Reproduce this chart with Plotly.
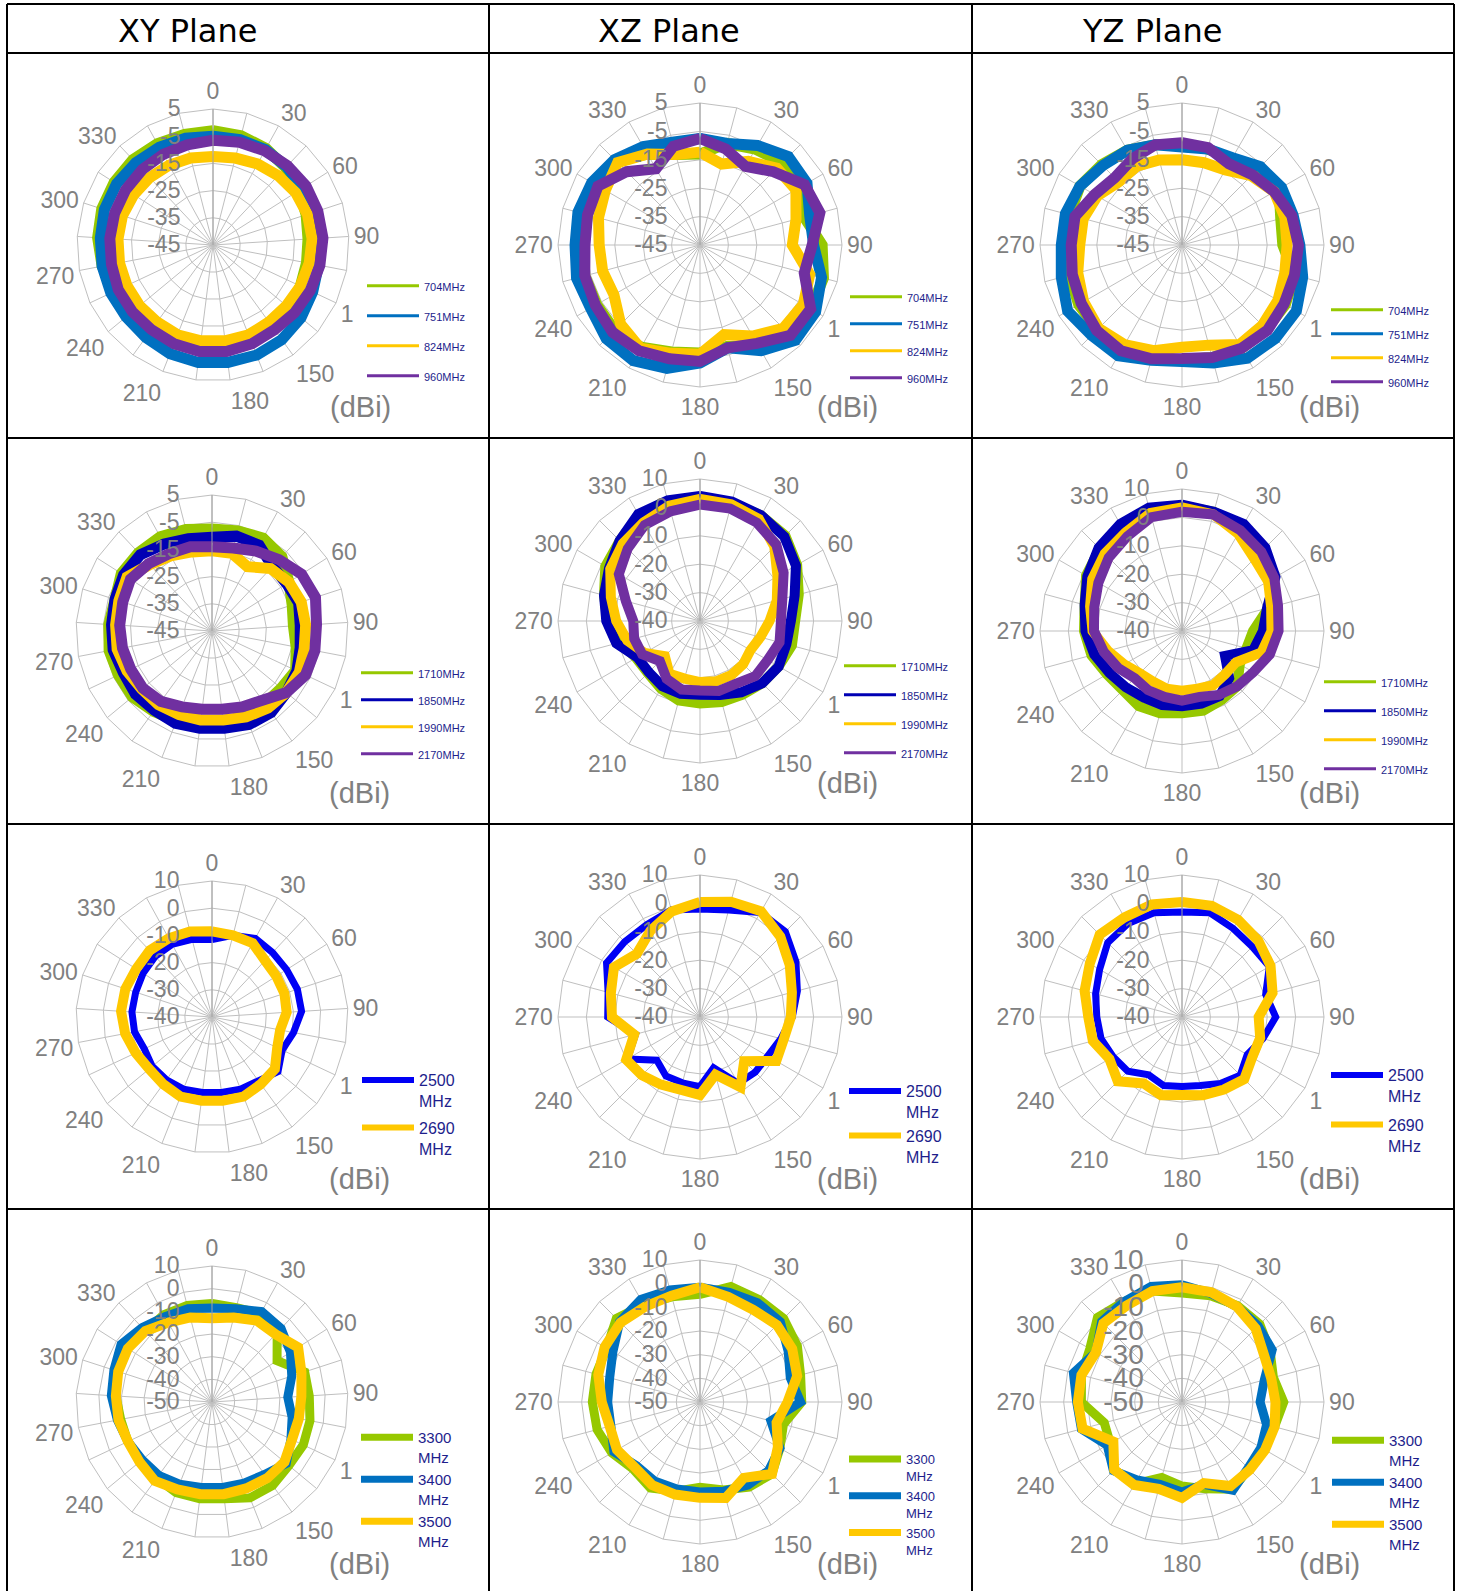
import plotly.graph_objects as go

W, H = 1461, 1591

# XZ / YZ charts: 24 categories (0..345); XY charts: 25 categories (0..360)
ANGLES = [str(a) for a in range(0, 360, 15)]
ANGLES_XY = [str(a) for a in range(0, 361, 15)]

GREEN = "#96C800"
BLUE = "#0070C0"
NAVY = "#0000B4"
BRIGHT_BLUE = "#0000F5"
YELLOW = "#FFC800"
PURPLE = "#7030A0"
GREY = "#808080"
LEGEND_TEXT = "#1E1E8C"

# ---- 700-960 MHz ----
xy1_704 = [-3, -3.5, -4.5, -6, -7.5, -9, -10, -10, -9.5, -8.5, -7.5, -6.5, -6, -6, -6, -6.5, -6, -5, -3.5, -2.5, -2, -2, -2, -2.5, -3]
xy1_751 = [-5, -5, -5, -5.5, -6, -6, -6, -5.5, -4.5, -3, -2, -1.5, -1.5, -1.5, -2, -3, -3.5, -3.5, -3.5, -3.5, -3, -3, -3.5, -4, -4.5]
xy1_824 = [-12.5, -12, -11, -10, -9, -8.5, -8.5, -9, -9.5, -10, -10, -9.5, -9.5, -9.5, -9.5, -10, -10, -10, -10, -10, -10, -10.5, -11, -11.5, -12]
xy1_960 = [-6.5, -6, -5.5, -5, -4.5, -4.5, -4.5, -5, -5.5, -6, -6.5, -6, -5.5, -5.5, -6, -6.5, -6.5, -6.5, -7, -7, -7, -7, -7, -7, -7]

xz1_704 = [-13, -8, -6, -4, -6, -7, -2, 0, 0, -1.5, -4, -8, -7, -6, -3.5, -2.5, -3, -3, -4, -4, -3, -3, -8, -12]
xz1_751 = [-7.5, -8, -4.5, -1, -1.5, -5, -5, -0.7, 2, 2.5, -2, -7.5, -3.5, 0, 2, 1.7, -0.5, 0, -1, -0.5, -1, -2.5, -5, -7.5]
xz1_824 = [-12.3, -15.5, -11, -6.7, -6, -10, -12.5, -5, -3, -3.5, -8, -12.3, -6.5, -5.5, -3, -5.5, -10, -9.5, -9.5, -8, -6.5, -4, -8, -12]
xz1_960 = [-7.5, -10, -13, -8.5, -2.5, -1.3, -5.5, -7, 0, 0, -5, -7.5, -4, -3.5, -2, -1.5, -2.5, -3, -4.5, -4, -3.5, -8.5, -14, -9]

yz1_704 = [-9.5, -10, -10, -7, -5.5, -9, -9.5, -4, -3, -3, -3, -4, -4.5, -4, -3, -3, -3, -4, -5, -4, -3.5, -5, -6.5, -8.5]
yz1_751 = [-10.5, -10, -9.5, -6, -4.5, -4.5, -3.5, -1, 1.5, 1.5, 1, -2, -4, -3, 0, 0, 1.5, -1, -2.5, -2.5, -3.5, -5.5, -6.5, -8.5]
yz1_824 = [-15, -15, -14.5, -10.5, -7.5, -7.5, -8, -7.5, -6, -5, -4.5, -8.5, -9, -6.5, -4.5, -3.5, -5, -7, -9, -9, -10.5, -13.5, -13, -14]
yz1_960 = [-9, -9.5, -12, -10, -7.5, -5, -4, -4, -3.5, -2.5, -3, -4, -5, -3.5, -2, -2.5, -4, -5, -6, -6, -9.5, -11.5, -10, -8.5]

# ---- 1710-2170 MHz ----
xy2_1710 = [-7.5, -7, -6, -7.5, -11.5, -14, -15, -13.5, -11, -12, -12, -12.5, -10, -10, -9.5, -8.5, -7, -7, -6.5, -7, -7.5, -5.5, -5.5, -5.5, -6.5]
xy2_1850 = [-10.5, -9, -9, -12.5, -12.5, -11.5, -12.5, -12, -10.5, -9.5, -8, -8, -9, -9, -8.5, -9, -8.5, -9, -8, -8, -7.5, -6.5, -6.5, -8.5, -10]
xy2_1990 = [-15.5, -15.5, -18, -13.5, -11.5, -10.5, -10.5, -10.5, -9.5, -9.5, -10, -11, -12, -12, -12, -11.5, -11.5, -10.5, -9.5, -9.5, -9, -8, -11.5, -13.5, -15]
xy2_2170 = [-14, -13.5, -11.5, -9, -6, -5, -6.5, -6.5, -7, -9.5, -13.5, -15, -16, -16, -15, -13, -12, -12, -11.5, -11, -10.5, -9.5, -11, -12.5, -13]

xz2_1710 = [3.5, 3, 3, 2.5, -0.5, -4, -6.5, -6.5, -8, -9, -10, -10.5, -11, -11, -12.5, -14, -14, -11, -7.5, -5, -1.5, 0, 3, 3.5]
xz2_1850 = [4, 3.5, 3, 2, -1, -5.5, -8, -8.5, -8, -9, -11, -13, -14, -13.5, -13.5, -14.5, -14.5, -9.5, -7, -5, -3, 0, 3.5, 4]
xz2_1990 = [3, 2.5, 1.5, -3, -8.5, -12, -15.5, -18, -19.5, -18.5, -18, -18, -18.5, -19, -18.5, -22.5, -17.5, -13.5, -10.5, -7.5, -3.5, -1.5, 0, 2]
xz2_2170 = [1, 1, 0, -2, -6, -10, -11.5, -11, -12.5, -12.5, -14.5, -14.5, -15.5, -15, -16.5, -20, -16.5, -16, -16.5, -13, -7, -4, -1, 0]

yz2_1710 = [4, 3.5, 2.5, 0.5, -3, -8.5, -15, -16.5, -16.5, -12.5, -12, -11, -11, -10, -9.5, -10.5, -9.5, -7, -5.5, -4.5, -1, 1, 3, 4]
yz2_1850 = [4.5, 3.5, 3.5, 1.5, -2, -9, -11.5, -14, -22.5, -16.5, -13.5, -13.5, -13.5, -13, -13, -12, -10.5, -8, -6, -4.5, -1.5, 1.5, 3.5, 5]
yz2_1990 = [3.5, 2.5, -0.5, -4, -5, -7.5, -8.5, -11, -18, -18.5, -18, -19, -19, -19, -19.5, -19, -16.5, -13, -8.5, -6.5, -3.5, -1.5, 0, 3]
yz2_2170 = [2, 2.5, 1, -0.5, -2.5, -5, -6, -8, -11, -12.5, -14, -16, -15.5, -16, -16, -16.5, -14, -11.5, -9, -8, -6, -3.5, -1.5, 1.5]

# ---- 2500-2690 MHz ----
xy3_2500 = [-11.5, -9, -7, -7.5, -7.5, -7, -7, -9.5, -11.5, -8.5, -11, -11.5, -12, -12, -11.5, -11.5, -11.5, -12.5, -11, -10.5, -10.5, -10, -9.5, -9.5, -10.5]
xy3_2690 = [-8.5, -9, -9, -11.5, -12, -12, -12.5, -14.5, -13.5, -10, -9.5, -8.5, -9, -9, -8.5, -9.5, -10, -9, -7.5, -6.5, -6.5, -7, -6.5, -7, -7.5]

xz3_2500 = [-2, -1, 2.5, 2.5, -1, -4.5, -7.5, -10.5, -12.5, -12.5, -13, -21.5, -15.5, -16, -16, -18.5, -10.5, -16.5, -7.5, -6.5, -2, -2.5, -2.5, -1]
xz3_2690 = [0.5, 2, 3, 0, -3.5, -6.5, -8, -9.5, -9, -18, -11.5, -19, -12.5, -13.5, -12.5, -11, -10, -16, -9, -7.5, -5, -8.5, -5, -1.5]

yz3_2500 = [-3, -2, -4, -5, -4.5, -9.5, -7, -10.5, -13.5, -11, -13, -15, -15.5, -15, -16.5, -13, -12, -10.5, -10, -8.5, -6.5, -3, -2, -2]
yz3_2690 = [0.5, 0.5, -0.5, -2, -4, -7, -13, -11.5, -11.5, -9, -10.5, -11.5, -12.5, -11.5, -13, -8, -10.5, -7.5, -7, -4.5, -2.5, 1, 0.5, 1]

# ---- 3300-3500 MHz ----
xy4_3300 = [-6.5, -7, -5.5, -8, -16, -7, -7, -6, -5.5, -6, -4.5, -4.5, -7, -7, -7, -8.5, -9, -9, -9, -7.5, -5.5, -5.5, -7, -6, -6]
xy4_3400 = [-8.5, -7.5, -4.5, -5.5, -9, -13, -16.5, -14, -11.5, -7.5, -10.5, -11.5, -12, -12, -11, -10, -10, -9, -7.5, -5.5, -4.5, -2.5, -5, -7, -7.5]
xy4_3500 = [-13, -11.5, -9, -9, -5, -8.5, -10.5, -11, -11, -8.5, -8.5, -9, -9, -9, -8.5, -7, -8.5, -9, -8, -7.5, -6.5, -6, -7, -10, -11.5]

xz4_3300 = [-4.5, 0.5, 0, 0, -2.5, -6, -7, -13.5, -11, -7, -8.5, -11.5, -14, -11, -8, -10, -7, -5, -4.5, -4.5, -4.5, 0, -2.5, -4]
xz4_3400 = [-1.5, -2, -1.5, -2, -7, -10.5, -7.5, -19, -11, -9, -9.5, -11, -12, -12, -11.5, -12, -8, -11, -11, -10.5, -7.5, -2, 0, -1]
xz4_3500 = [-1.5, -4, -5, -4, -5, -7.5, -13, -16.5, -12, -7, -13, -8, -9.5, -9.5, -9.5, -11, -9.5, -10.5, -8.5, -5.5, -3.5, -2.5, -3.5, -3.5]

yz4_3300 = [-4, -3.5, -3, -3.5, -7, -10, -7, -9.5, -11, -10, -7.5, -12, -14.5, -17, -10, -9.5, -15, -16, -7.5, -6, -5, 0.5, -1, -1.5]
yz4_3400 = [-0.5, -2.5, -3.5, -4.5, -6, -14, -17, -13, -11.5, -10.5, -7, -14, -12, -14, -12, -9, -13.5, -6, -5.5, -2.5, -8, -2, -1, 0.5]
yz4_3500 = [-1.5, -2, -3.5, -6, -10, -11, -10.5, -9.5, -9.5, -9.5, -9, -14.5, -9.5, -12, -9.5, -9.5, -16.5, -6.5, -6, -6, -8, -3, -3, -1.5]

HEADERS = ["XY Plane", "XZ Plane", "YZ Plane"]

band1 = [("704MHz", GREEN), ("751MHz", BLUE), ("824MHz", YELLOW), ("960MHz", PURPLE)]
band2 = [("1710MHz", GREEN), ("1850MHz", NAVY), ("1990MHz", YELLOW), ("2170MHz", PURPLE)]
band3 = [("2500<br>MHz", BRIGHT_BLUE), ("2690<br>MHz", YELLOW)]
band4 = [("3300<br>MHz", GREEN), ("3400<br>MHz", BLUE), ("3500<br>MHz", YELLOW)]

# row, col, radial range, series, values, trace widths, legend (line x, first y, gap, line w), legend font, radial font
charts = [
    (0, 0, (-45, 5), band1, [xy1_704, xy1_751, xy1_824, xy1_960], [11] * 4, (368, 286, 11, 3), 11, 23),
    (0, 1, (-45, 5), band1, [xz1_704, xz1_751, xz1_824, xz1_960], [11] * 4, (851, 297, 8, 3), 11, 23),
    (0, 2, (-45, 5), band1, [yz1_704, yz1_751, yz1_824, yz1_960], [11] * 4, (1332, 310, 5, 3), 11, 23),
    (1, 0, (-45, 5), band2, [xy2_1710, xy2_1850, xy2_1990, xy2_2170], [11] * 4, (362, 673, 8, 3), 11, 23),
    (1, 1, (-40, 10), band2, [xz2_1710, xz2_1850, xz2_1990, xz2_2170], [10] * 4, (845, 666, 10, 3), 11, 23),
    (1, 2, (-40, 10), band2, [yz2_1710, yz2_1850, yz2_1990, yz2_2170], [10] * 4, (1325, 682, 10, 3), 11, 23),
    (2, 0, (-40, 10), band3, [xy3_2500, xy3_2690], [7, 10], (363, 1080, 3, 6), 16, 23),
    (2, 1, (-40, 10), band3, [xz3_2500, xz3_2690], [7, 10], (850, 1091, 0, 6), 16, 23),
    (2, 2, (-40, 10), band3, [yz3_2500, yz3_2690], [7, 10], (1332, 1075, 5, 6), 16, 23),
    (3, 0, (-50, 10), band4, [xy4_3300, xy4_3400, xy4_3500], [9, 9, 10], (362, 1438, 0, 7), 15, 23),
    (3, 1, (-50, 10), band4, [xz4_3300, xz4_3400, xz4_3500], [9, 9, 10], (850, 1461, 0, 7), 13, 23),
    (3, 2, (-50, 10), band4, [yz4_3300, yz4_3400, yz4_3500], [9, 9, 10], (1333, 1441, 0, 7), 15, 28),
]

CENTERS = {
    (0, 0): (213, 245), (0, 1): (700, 245), (0, 2): (1182, 245),
    (1, 0): (212, 631), (1, 1): (700, 621), (1, 2): (1182, 631),
    (2, 0): (212, 1017), (2, 1): (700, 1017), (2, 2): (1182, 1017),
    (3, 0): (212, 1402), (3, 1): (700, 1402), (3, 2): (1182, 1402),
}
RADII = [136, 142, 142]
COL_X = [7, 489, 972, 1454]
ROW_Y = [4, 53, 438, 824, 1209]

fig = go.Figure()
layout = {}
annotations = []

for i, (r, c, rng, band, values, widths, leg, lfont, rfont) in enumerate(charts):
    pname = "polar" if i == 0 else f"polar{i + 1}"
    lname = "legend" if i == 0 else f"legend{i + 1}"
    cats = ANGLES_XY if c == 0 else ANGLES
    lx, ly, gap, lw = leg
    for (name, color), vals, w in zip(band, values, widths):
        fig.add_trace(go.Scatterpolar(
            r=vals + vals[:1], theta=cats + cats[:1], mode="lines",
            name=name, line=dict(color=color, width=w),
            subplot=pname, showlegend=False,
        ))
    # thinner legend-only entries, as in the original legend keys
    for name, color in band:
        fig.add_trace(go.Scatterpolar(
            r=[None], theta=[cats[0]], mode="lines", name=name,
            line=dict(color=color, width=lw), subplot=pname,
            legend=lname, legendgroup=f"{i}-{name}", showlegend=True,
        ))

    cx, cy = CENTERS[(r, c)]
    R = RADII[c]
    ticks = list(range(rng[0], rng[1] + 1, 10))
    labels = []
    for k, a in enumerate(cats):
        if k % 2 or a == "360":
            labels.append("")
        elif a == "120":
            labels.append("" if (r, c) == (1, 2) else "1")
        else:
            labels.append(a)
    layout[pname] = dict(
        domain=dict(x=[(cx - R) / W, (cx + R) / W], y=[1 - (cy + R) / H, 1 - (cy - R) / H]),
        bgcolor="white",
        gridshape="linear",
        angularaxis=dict(
            type="category", categoryorder="array", categoryarray=cats,
            direction="clockwise", rotation=90,
            tickmode="array", tickvals=cats, ticktext=labels,
            tickfont=dict(size=23, color=GREY),
            showline=True, linecolor="#BFBFBF", linewidth=1,
            gridcolor="#BFBFBF", gridwidth=1, ticks="",
        ),
        radialaxis=dict(
            range=list(rng), tickmode="array", tickvals=ticks,
            ticktext=[str(t) for t in ticks],
            angle=90, side="counterclockwise", tickangle=90,
            ticks="outside", ticklen=24 if rfont < 25 else 28, tickcolor="rgba(0,0,0,0)",
            tickfont=dict(size=rfont, color=GREY),
            showline=True, linecolor="#A0A0A0", linewidth=1,
            gridcolor="#BFBFBF", gridwidth=1, layer="above traces",
        ),
    )
    two_line = "<br>" in band[0][0]
    layout[lname] = dict(
        x=(lx - 6) / W, y=1 - (ly - (17 if two_line else 14)) / H,
        xanchor="left", yanchor="top", bgcolor="rgba(0,0,0,0)",
        font=dict(size=lfont, color=LEGEND_TEXT, family="Liberation Sans, Arial"),
        itemwidth=52, tracegroupgap=gap, valign="top",
    )
    annotations.append(dict(
        x=(cx + 147) / W, y=1 - (cy + 162) / H, xref="paper", yref="paper",
        text="(dBi)", showarrow=False, font=dict(size=29, color=GREY),
        xanchor="center", yanchor="middle",
    ))

for k, title in enumerate(HEADERS):
    annotations.append(dict(
        x=(COL_X[k] + 180) / W, y=1 - 31 / H, xref="paper", yref="paper",
        text=title, showarrow=False, xanchor="center", yanchor="middle",
        font=dict(size=32, color="black", family="DejaVu Sans, Verdana"),
    ))

# table grid
shapes = []
for x in COL_X:
    shapes.append(dict(type="line", xref="paper", yref="paper", x0=x / W, x1=x / W,
                       y0=1 - ROW_Y[0] / H, y1=0, line=dict(color="black", width=2)))
for y in ROW_Y:
    shapes.append(dict(type="line", xref="paper", yref="paper", x0=COL_X[0] / W, x1=COL_X[-1] / W,
                       y0=1 - y / H, y1=1 - y / H, line=dict(color="black", width=2)))

fig.update_layout(
    width=W, height=H, margin=dict(l=0, r=0, t=0, b=0),
    template="none", paper_bgcolor="white",
    font=dict(family="Liberation Sans, Arial, sans-serif", color=GREY),
    annotations=annotations, shapes=shapes, **layout,
)

fig.write_html("out.html", config={"displayModeBar": False},
               post_script="document.body.style.margin='0px';")
